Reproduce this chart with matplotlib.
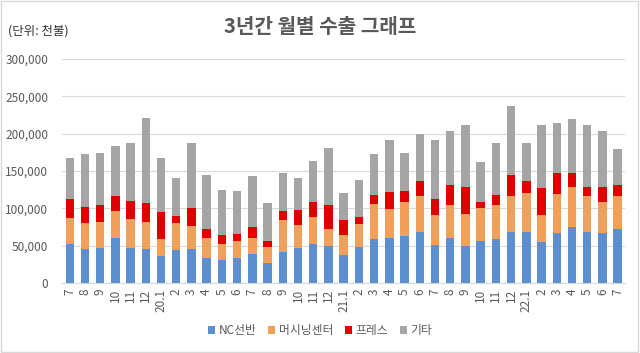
import matplotlib
matplotlib.use("Agg")
import matplotlib.pyplot as plt
import numpy as np

plt.rcParams['font.family'] = ['Noto Sans CJK KR', 'DejaVu Sans']

months = ["7", "8", "9", "10", "11", "12",
          "20.1", "2", "3", "4", "5", "6", "7", "8", "9", "10", "11", "12",
          "21.1", "2", "3", "4", "5", "6", "7", "8", "9", "10", "11", "12",
          "22.1", "2", "3", "4", "5", "6", "7"]

nc_lathe = [52000, 45000, 47000, 60000, 47000, 45000,
            36000, 44000, 45000, 33000, 31000, 33000, 39000, 27000, 41000, 47000, 52000, 49000,
            37000, 48000, 59000, 61000, 63000, 69000, 51000, 61000, 49000, 56000, 59000, 69000,
            68000, 55000, 67000, 75000, 68000, 67000, 73000]
machining = [35000, 36000, 35000, 36000, 39000, 37000,
             23000, 37000, 32000, 28000, 21000, 24000, 21000, 21000, 44000, 31000, 36000, 24000,
             27000, 31000, 47000, 38000, 45000, 48000, 40000, 43000, 44000, 44000, 45000, 48000,
             53000, 36000, 52000, 53000, 49000, 41000, 43000]
press = [25000, 21000, 22000, 21000, 24000, 25000,
         36000, 9000, 23000, 12000, 13000, 9000, 15000, 8000, 12000, 20000, 20000, 32000,
         21000, 9000, 12000, 23000, 15000, 20000, 21000, 27000, 36000, 8000, 14000, 28000,
         15000, 36000, 28000, 19000, 12000, 20000, 15000]
others = [56000, 71000, 70000, 66000, 78000, 114000,
          73000, 51000, 88000, 72000, 60000, 57000, 68000, 51000, 50000, 43000, 56000, 76000,
          36000, 50000, 55000, 69000, 51000, 62000, 80000, 73000, 82000, 54000, 70000, 92000,
          51000, 85000, 67000, 72000, 83000, 76000, 49000]

series = [("NC선반", nc_lathe, "#5B8FCF"),
          ("머시닝센터", machining, "#F0A05A"),
          ("프레스", press, "#E00000"),
          ("기타", others, "#A5A5A5")]

fig = plt.figure(figsize=(6.4, 3.53), dpi=100)
ax = fig.add_axes([0.097, 0.198, 0.880, 0.635])

x = np.arange(len(months))
bottom = np.zeros(len(months))
for name, vals, color in series:
    ax.bar(x, vals, width=0.55, bottom=bottom, color=color, label=name, zorder=3)
    bottom += np.array(vals)

ax.set_xlim(-0.5, len(months) - 0.5)
ax.set_ylim(0, 300000)
ax.set_yticks(np.arange(0, 300001, 50000))
ax.set_yticklabels([f"{v:,}" for v in range(0, 300001, 50000)])
ax.set_xticks(x)
ax.set_xticklabels(months, rotation=90)
ax.tick_params(axis="both", length=0, labelsize=8.5, colors="#595959")
ax.tick_params(axis="y", pad=10)
ax.tick_params(axis="x", pad=4)
ax.grid(axis="y", color="#D9D9D9", lw=0.8, zorder=0)
for s in ["top", "right", "left"]:
    ax.spines[s].set_visible(False)
ax.spines["bottom"].set_color("#D9D9D9")

fig.text(0.5, 0.925, "3년간 월별 수출 그래프", ha="center", va="center",
         fontsize=14.5, fontweight="bold", color="#595959")
fig.text(0.013, 0.912, "(단위: 천불)", ha="left", va="center",
         fontsize=9, color="#333333")

fig.legend(loc="center", bbox_to_anchor=(0.5, 0.063), ncol=4, frameon=False,
           fontsize=8.5, handlelength=0.6, handleheight=0.6, handletextpad=0.3,
           columnspacing=1.0, labelcolor="#595959")

border = plt.Rectangle((0.002, 0.003), 0.995, 0.993, transform=fig.transFigure,
                       fill=False, edgecolor="#D9D9D9", lw=1)
fig.add_artist(border)

fig.savefig("out.png", dpi=100)
